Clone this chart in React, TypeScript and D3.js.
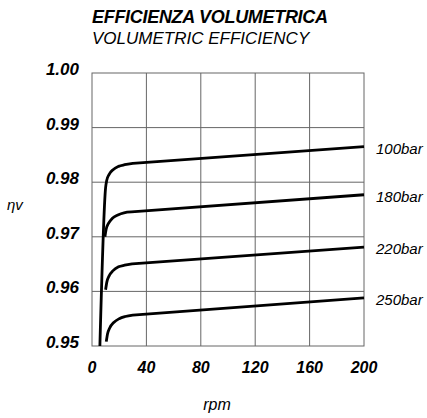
import React from 'react';
import * as d3 from 'd3';

const W = 427;
const H = 418;

// axis ticks
const xTicks = [0, 40, 80, 120, 160, 200];
const yTicks = [0.95, 0.96, 0.97, 0.98, 0.99, 1.0];

// curves (rpm, efficiency); last point closes the straight tail
const seriesNames = ['100bar', '180bar', '220bar', '250bar'];
const rpm100 = [5.8, 10, 10.8, 12.5, 15.5, 19.5, 24, 30, 200];
const eta100 = [0.95, 0.979, 0.9803, 0.9814, 0.9823, 0.9829, 0.9832, 0.98345, 0.9865];
const rpm180 = [9.5, 10.4, 12, 15, 19, 23.5, 29, 200];
const eta180 = [0.97, 0.9714, 0.9724, 0.9734, 0.974, 0.9744, 0.97455, 0.9777];
const rpm220 = [10, 10.9, 12.5, 15.5, 19.5, 24, 29.5, 200];
const eta220 = [0.9603, 0.9617, 0.9628, 0.9638, 0.9645, 0.9648, 0.96505, 0.9681];
const rpm250 = [10.5, 11.4, 13, 16, 20, 24.5, 30, 200];
const eta250 = [0.9508, 0.9522, 0.9533, 0.9543, 0.955, 0.9554, 0.95565, 0.9588];

const seriesRpm = [rpm100, rpm180, rpm220, rpm250];
const seriesEta = [eta100, eta180, eta220, eta250];

const FONT = '"Liberation Sans", Arial, Helvetica, sans-serif';
const GRID = '#666';

const App: React.FC = () => {
  const x = d3.scaleLinear().domain([0, 200]).range([92, 364]);
  const y = d3.scaleLinear().domain([0.95, 1.0]).range([346, 73]);

  const knee = d3
    .line<[number, number]>()
    .x(d => x(d[0]))
    .y(d => y(d[1]))
    .curve(d3.curveMonotoneX);

  return (
    <svg
      width={W}
      height={H}
      style={{ position: 'fixed', left: 0, top: 0, background: '#fff' }}
      fontFamily={FONT}
    >
      {/* title */}
      <text x={92} y={23} fontSize={18} fontWeight="bold" fontStyle="italic" letterSpacing={-0.3}>
        EFFICIENZA VOLUMETRICA
      </text>
      <text x={92} y={44} fontSize={17} fontStyle="italic">
        VOLUMETRIC EFFICIENCY
      </text>

      {/* grid */}
      {xTicks.slice(1, -1).map(t => (
        <line key={'gx' + t} x1={x(t)} x2={x(t)} y1={y(1)} y2={y(0.95)} stroke={GRID} strokeWidth={1} />
      ))}
      {yTicks.slice(1, -1).map(t => (
        <line key={'gy' + t} x1={x(0)} x2={x(200)} y1={y(t)} y2={y(t)} stroke={GRID} strokeWidth={1} />
      ))}
      <rect x={x(0)} y={y(1)} width={x(200) - x(0)} height={y(0.95) - y(1)} fill="none" stroke={GRID} strokeWidth={1} />

      {/* tick labels */}
      {yTicks.map(t => (
        <text
          key={'ly' + t}
          x={79}
          y={y(t) + 2}
          textAnchor="end"
          fontSize={17}
          fontWeight="bold"
          fontStyle="italic"
        >
          {t.toFixed(2)}
        </text>
      ))}
      {xTicks.map(t => (
        <text
          key={'lx' + t}
          x={x(t)}
          y={373}
          textAnchor="middle"
          fontSize={16}
          fontWeight="bold"
          fontStyle="italic"
        >
          {t}
        </text>
      ))}

      {/* axis titles */}
      <text x={7} y={210} fontSize={15} fontStyle="italic">
        ηv
      </text>
      <text x={217} y={410} textAnchor="middle" fontSize={16} fontStyle="italic">
        rpm
      </text>

      {/* curves */}
      {seriesNames.map((name, i) => {
        const pts = seriesRpm[i].map((r, j) => [r, seriesEta[i][j]] as [number, number]);
        const last = pts[pts.length - 1];
        const d = (knee(pts.slice(0, -1)) || '') + `L${x(last[0])},${y(last[1])}`;
        return (
          <g key={name}>
            <path d={d} fill="none" stroke="#000" strokeWidth={2.8} strokeLinejoin="round" />
            <text x={376} y={y(last[1]) + 3} dominantBaseline="middle" fontSize={15} fontStyle="italic">
              {name}
            </text>
          </g>
        );
      })}
    </svg>
  );
};

export default App;
